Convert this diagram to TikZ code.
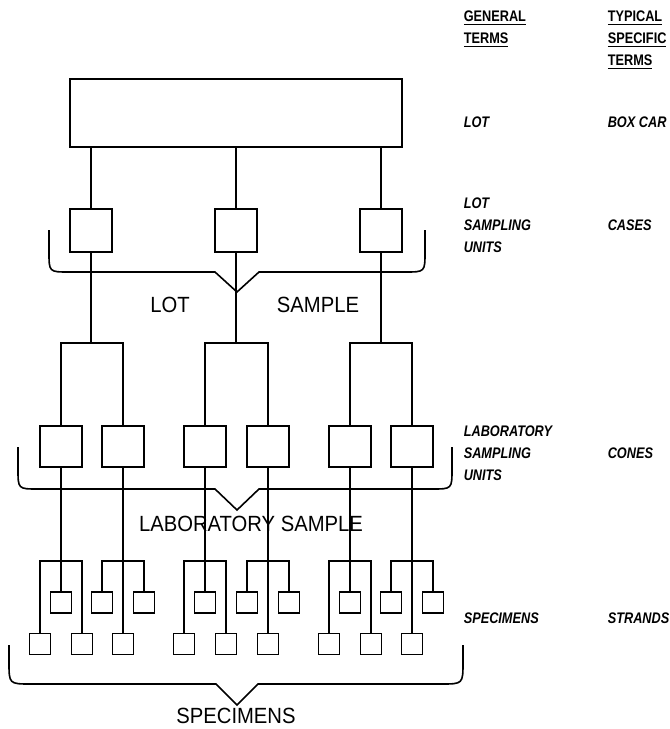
\documentclass[tikz,border=0pt]{standalone}
\usepackage{fontspec}
\setmainfont{Liberation Sans}
\newfontfamily\plotfont[FakeStretch=0.83]{Liberation Sans}
\newfontfamily\bigplotfont[FakeStretch=0.92]{Liberation Sans}

\tikzset{
  lotbox/.style={draw, inner sep=0pt, minimum width=249pt, minimum height=51pt},
  unitbox/.style={draw, inner sep=0pt, minimum width=31.5pt, minimum height=32.25pt},
  labbox/.style={draw, inner sep=0pt, minimum width=31.5pt, minimum height=30.75pt},
  specbox/.style={draw, inner sep=0pt, minimum width=15.75pt, minimum height=15.75pt},
  bigword/.style={inner sep=0pt, font=\bigplotfont\fontsize{16.5}{18}\selectfont},
  termword/.style={anchor=west, inner sep=0pt, align=left, font=\plotfont\fontsize{11.5}{16.5}\selectfont\bfseries\itshape},
  headword/.style={anchor=west, inner sep=0pt, align=left, font=\plotfont\fontsize{11.5}{16.5}\selectfont\bfseries}
}

\begin{document}
\begin{tikzpicture}[x=0.75pt,y=0.75pt,yscale=-1,xscale=1,line width=1.2pt]
\useasboundingbox (0,0) rectangle (670,729);

%Shape: Rectangle
\node[lotbox] (lot) at (236,113) {};
%Shape: Square
\node[unitbox] (lsu1) at (91,230.5) {};
\node[unitbox] (lsu2) at (236,230.5) {};
\node[unitbox] (lsu3) at (381,230.5) {};
\draw (lot.south -| lsu1.north) -- (lsu1.north);
\draw (lot.south -| lsu2.north) -- (lsu2.north);
\draw (lot.south -| lsu3.north) -- (lsu3.north);

%Shape: Square
\node[labbox] (lab1) at (61,446.5) {};
\node[labbox] (lab2) at (123,446.5) {};
\node[labbox] (lab3) at (205,446.5) {};
\node[labbox] (lab4) at (268,446.5) {};
\node[labbox] (lab5) at (350,446.5) {};
\node[labbox] (lab6) at (412,446.5) {};
\coordinate (b1) at (91,343);
\coordinate (b2) at (236,343);
\coordinate (b3) at (381,343);
\draw (lsu1.south) -- (b1);
\draw (lsu2.south) -- (b2);
\draw (lsu3.south) -- (b3);
\draw (lab1.north) |- (b1) -| (lab2.north);
\draw (lab3.north) |- (b2) -| (lab4.north);
\draw (lab5.north) |- (b3) -| (lab6.north);

%Shape: Square
\node[specbox] (s1) at (61,602.5) {};
\node[specbox] (s2) at (40,644) {};
\node[specbox] (s3) at (82,644) {};
\node[specbox] (s4) at (102,602.5) {};
\node[specbox] (s5) at (144,602.5) {};
\node[specbox] (s6) at (123,644) {};
\node[specbox] (s7) at (205,602.5) {};
\node[specbox] (s8) at (184,644) {};
\node[specbox] (s9) at (226,644) {};
\node[specbox] (s10) at (247,602.5) {};
\node[specbox] (s11) at (289,602.5) {};
\node[specbox] (s12) at (268,644) {};
\node[specbox] (s13) at (350,602.5) {};
\node[specbox] (s14) at (329,644) {};
\node[specbox] (s15) at (371,644) {};
\node[specbox] (s16) at (391,602.5) {};
\node[specbox] (s17) at (433,602.5) {};
\node[specbox] (s18) at (412,644) {};
\coordinate (c1) at (61,561);
\coordinate (c2) at (123,561);
\coordinate (c3) at (205,561);
\coordinate (c4) at (268,561);
\coordinate (c5) at (350,561);
\coordinate (c6) at (412,561);
\draw (lab1.south) -- (s1.north);
\draw (s2.north) |- (c1) -| (s3.north);
\draw (lab2.south) -- (s6.north);
\draw (s4.north) |- (c2) -| (s5.north);
\draw (lab3.south) -- (s7.north);
\draw (s8.north) |- (c3) -| (s9.north);
\draw (lab4.south) -- (s12.north);
\draw (s10.north) |- (c4) -| (s11.north);
\draw (lab5.south) -- (s13.north);
\draw (s14.north) |- (c5) -| (s15.north);
\draw (lab6.south) -- (s18.north);
\draw (s16.north) |- (c6) -| (s17.north);

%Shape: Brace
\draw (49,230) -- (49,252) .. controls (49,272) .. (69,272) -- (215,272) -- (237,292) -- (259,272) -- (405,272) .. controls (425,272) .. (425,252) -- (425,230);
%Shape: Brace
\draw (18,447) -- (18,469) .. controls (18,489) .. (38,489) -- (215,489) -- (237,510) -- (259,489) -- (432,489) .. controls (452,489) .. (452,469) -- (452,447);
%Shape: Brace
\draw (9,645) -- (9,662) .. controls (9,684) .. (31,684) -- (216,684) -- (237,705) -- (258,684) -- (441,684) .. controls (463,684) .. (463,662) -- (463,645);

% Text Node
\node[bigword] (lotword) at (170,305) {LOT};
% Text Node
\node[bigword] (sampleword) at (318,305) {SAMPLE};
% Text Node
\node[bigword] (labword) at (251,524) {LABORATORY SAMPLE};
% Text Node
\node[bigword] (specword) at (236,716) {SPECIMENS};

% Text Node
\node[headword] (general) at (463,29) {\underline{GENERAL}\\\underline{TERMS}};
% Text Node
\node[headword] (typical) at (607,40) {\underline{TYPICAL}\\\underline{SPECIFIC}\\\underline{TERMS}};
% Text Node
\node[termword] (lotterm) at (463,122) {LOT};
% Text Node
\node[termword] (boxcar) at (607,122) {BOX CAR};
% Text Node
\node[termword] (lsuterm) at (463,225) {LOT\\SAMPLING\\UNITS};
% Text Node
\node[termword] (cases) at (607,225) {CASES};
% Text Node
\node[termword] (labterm) at (463,453) {LABORATORY\\SAMPLING\\UNITS};
% Text Node
\node[termword] (cones) at (607,453) {CONES};
% Text Node
\node[termword] (specterm) at (463,618) {SPECIMENS};
% Text Node
\node[termword] (strands) at (607,618) {STRANDS};

\end{tikzpicture}
\end{document}
